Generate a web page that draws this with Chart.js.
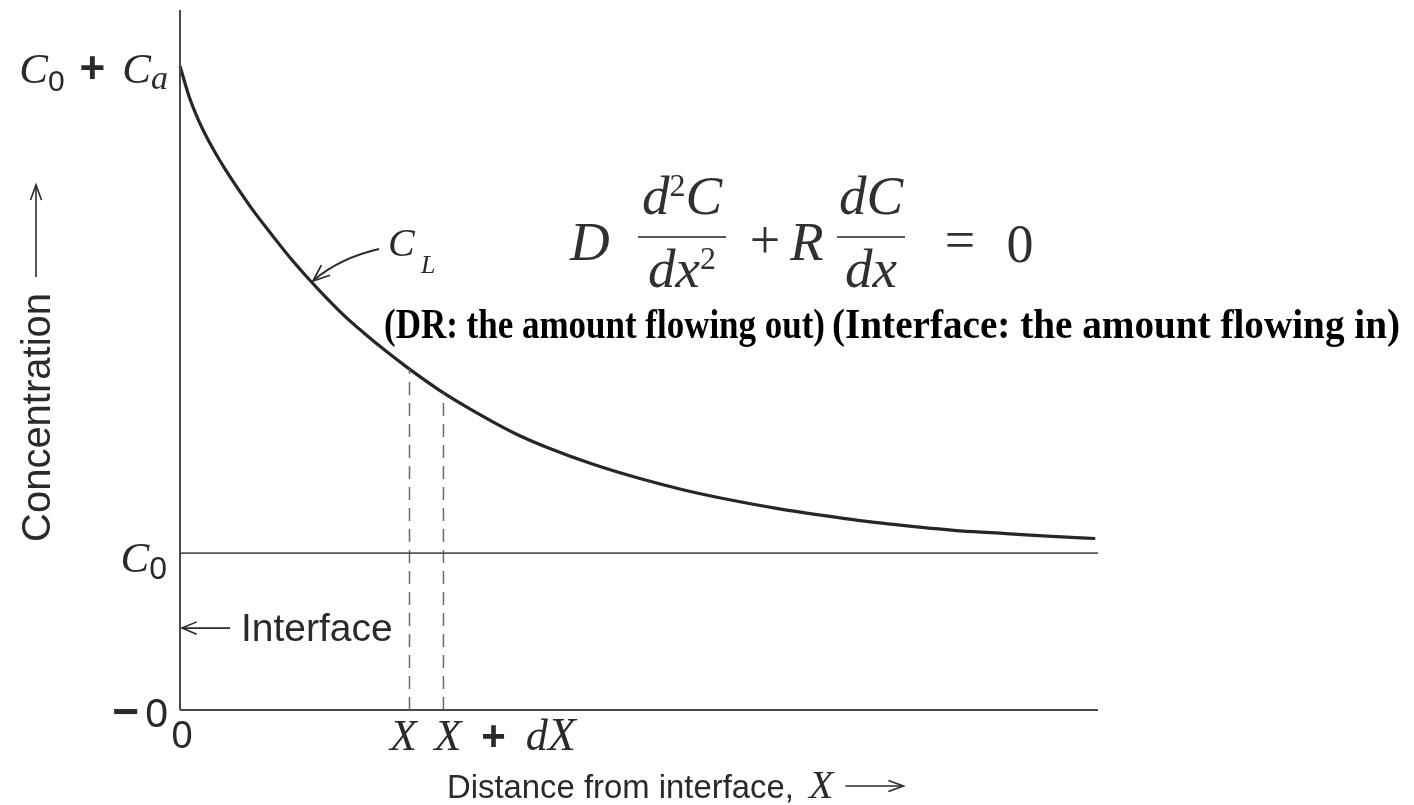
<!DOCTYPE html>
<html>
<head>
<meta charset="utf-8">
<script src="https://cdn.jsdelivr.net/npm/chart.js@4.4.1/dist/chart.umd.min.js"></script>
<style>
  html, body { margin: 0; padding: 0; background: #fff; }
  #wrap { width: 1414px; height: 805px; }
</style>
</head>
<body>
<div id="wrap"><canvas id="chart" width="1414" height="805"></canvas></div>
<script>
// Solute concentration C_L in the liquid ahead of a moving interface (arbitrary units)
const distance      = [0, 1, 2, 3, 4, 5, 6, 8, 10, 12, 14, 16, 18, 20, 22.5, 25, 28.7, 32, 36.5, 40, 45, 50, 55, 60, 65, 70, 75, 80, 85, 90, 95, 99.7];
const concentration = [92.0, 87.6, 84.3, 81.6, 79.25, 77.1, 75.1, 71.3, 67.9, 64.6, 61.6, 58.8, 56.2, 53.9, 51.2, 48.7, 45.3, 42.7, 39.5, 37.5, 35.1, 33.1, 31.4, 30.0, 28.8, 27.8, 26.9, 26.2, 25.6, 25.2, 24.8, 24.5];
const C0 = 22.4;          // bulk liquid concentration
const Ca = 69.6;          // excess at the interface, so C0 + Ca is the curve's start
const X  = 25;            // position of the slab
const dX = 3.7;           // slab thickness
const xRange = [0, 100];
const yRange = [0, 100];

const yAxisTitle = 'Concentration';
const xAxisTitle = 'Distance from interface, ';
const interfaceLabel = 'Interface';
const notes = ['(DR: the amount flowing out)', '(Interface: the amount flowing in)'];

const curveAt = v => concentration[distance.indexOf(v)];

const INK = '#2a2a2a';
const SERIF = '"Liberation Serif", "DejaVu Serif", serif';
const SANS = '"Liberation Sans", "DejaVu Sans", sans-serif';

// draw a run of differently styled pieces; parts: {t, f, dy} or {gap}
function richText(ctx, parts, x, baseline, align) {
  let total = 0;
  parts.forEach(p => {
    if (p.gap !== undefined) { total += p.gap; return; }
    ctx.font = p.f; total += ctx.measureText(p.t).width;
  });
  let cx = align === 'right' ? x - total : align === 'center' ? x - total / 2 : x;
  ctx.textAlign = 'left';
  ctx.textBaseline = 'alphabetic';
  parts.forEach(p => {
    if (p.gap !== undefined) { cx += p.gap; return; }
    ctx.font = p.f;
    ctx.fillText(p.t, cx, baseline + (p.dy || 0));
    cx += ctx.measureText(p.t).width;
  });
}

function openHead(ctx, tx, ty, ang, len, spread) {
  ctx.beginPath();
  ctx.moveTo(tx - len * Math.cos(ang - spread), ty - len * Math.sin(ang - spread));
  ctx.lineTo(tx, ty);
  ctx.lineTo(tx - len * Math.cos(ang + spread), ty - len * Math.sin(ang + spread));
  ctx.stroke();
}

const annotations = {
  id: 'annotations',
  afterDatasetsDraw(chart) {
    const { ctx, scales: { x: xs, y: ys } } = chart;
    const px = v => xs.getPixelForValue(v);
    const py = v => ys.getPixelForValue(v);
    ctx.save();
    ctx.fillStyle = INK;
    ctx.strokeStyle = INK;

    // value labels on the concentration axis
    const right = px(0) - 13;
    richText(ctx, [
      { t: 'C', f: `italic 43px ${SERIF}` },
      { t: '0', f: `30px ${SANS}`, dy: 8 },
      { gap: 15 },
      { t: '+', f: `bold 44px ${SANS}` },
      { gap: 17 },
      { t: 'C', f: `italic 43px ${SERIF}` },
      { t: 'a', f: `italic 34px ${SERIF}`, dy: 6 }
    ], right + 1, py(C0 + Ca) + 17, 'right');
    richText(ctx, [
      { t: 'C', f: `italic 43px ${SERIF}` },
      { t: '0', f: `32px ${SANS}`, dy: 7 }
    ], right, py(C0) + 19, 'right');
    richText(ctx, [
      { t: '\u2212', f: `bold 46px ${SANS}` },
      { gap: 6 },
      { t: '0', f: `41px ${SANS}` }
    ], right + 1, py(0) + 17, 'right');

    // distance axis labels
    richText(ctx, [{ t: '0', f: `38px ${SANS}` }], px(0) + 2, py(0) + 38, 'center');
    richText(ctx, [{ t: 'X', f: `italic 44px ${SERIF}` }], px(X) - 6, py(0) + 40, 'center');
    richText(ctx, [
      { t: 'X', f: `italic 44px ${SERIF}` },
      { gap: 20 },
      { t: '+', f: `bold 42px ${SANS}` },
      { gap: 20 },
      { t: 'd', f: `italic 44px ${SERIF}` },
      { t: 'X', f: `italic 46px ${SERIF}` }
    ], px(X + dX) - 9, py(0) + 40, 'left');

    // axis titles
    ctx.lineWidth = 1.6;
    const tx = 447, tb = 798;
    ctx.font = `34px ${SANS}`;
    const titleW = Math.min(ctx.measureText(xAxisTitle).width, 356);
    ctx.textAlign = 'left';
    ctx.textBaseline = 'alphabetic';
    ctx.fillText(xAxisTitle, tx, tb, 356);
    const endTitle = tx + titleW + 6;
    richText(ctx, [{ t: 'X', f: `italic 40px ${SERIF}` }], endTitle, tb, 'left');
    ctx.font = `italic 40px ${SERIF}`;
    const ax0 = endTitle + ctx.measureText('X').width + 12;
    ctx.beginPath(); ctx.moveTo(ax0, tb - 12); ctx.lineTo(ax0 + 56, tb - 12); ctx.stroke();
    openHead(ctx, ax0 + 58, tb - 12, 0, 16, 0.35);

    ctx.save();
    ctx.translate(50, 542);
    ctx.rotate(-Math.PI / 2);
    ctx.font = `40px ${SANS}`;
    ctx.textAlign = 'left';
    ctx.textBaseline = 'alphabetic';
    ctx.fillText(yAxisTitle, 0, 0);
    const yl = ctx.measureText(yAxisTitle).width;
    ctx.beginPath(); ctx.moveTo(yl + 16, -14); ctx.lineTo(yl + 106, -14); ctx.stroke();
    openHead(ctx, yl + 108, -14, 0, 16, 0.35);
    ctx.restore();

    // interface pointer
    const iy = py(11.7);
    ctx.beginPath(); ctx.moveTo(px(0) + 3, iy); ctx.lineTo(px(0) + 50, iy); ctx.stroke();
    openHead(ctx, px(0) + 2, iy, Math.PI, 16, 0.4);
    richText(ctx, [{ t: interfaceLabel, f: `39px ${SANS}` }], px(0) + 61, iy + 13, 'left');

    // C_L tag with curved leader
    richText(ctx, [{ t: 'C', f: `italic 40px ${SERIF}` }], 388, 256, 'left');
    richText(ctx, [{ t: 'L', f: `italic 26px ${SERIF}` }], 421, 273, 'left');
    ctx.lineWidth = 1.8;
    ctx.beginPath();
    ctx.moveTo(379, 249);
    ctx.quadraticCurveTo(340, 258, 314, 280);
    ctx.stroke();
    openHead(ctx, 313, 281, Math.atan2(281 - 258, 313 - 340), 18, 0.38);

    // governing equation
    ctx.fillStyle = '#303030';
    ctx.strokeStyle = '#5a5a5a';
    const eqB = 260, numB = 214, denB = 287, bar = 237;
    const M = `italic 55px ${SERIF}`, U = `54px ${SERIF}`, S = `32px ${SERIF}`;
    richText(ctx, [{ t: 'D', f: M }], 570, eqB, 'left');
    richText(ctx, [{ t: 'd', f: M }, { t: '2', f: S, dy: -18 }, { t: 'C', f: M }], 682, numB, 'center');
    richText(ctx, [{ t: 'dx', f: M }, { t: '2', f: S, dy: -18 }], 682, denB, 'center');
    ctx.lineWidth = 1.8;
    ctx.beginPath(); ctx.moveTo(638, bar); ctx.lineTo(726, bar); ctx.stroke();
    richText(ctx, [{ t: '+', f: U }], 765, eqB - 2, 'center');
    richText(ctx, [{ t: 'R', f: M }], 790, eqB, 'left');
    richText(ctx, [{ t: 'dC', f: M }], 871, numB, 'center');
    richText(ctx, [{ t: 'dx', f: M }], 871, denB, 'center');
    ctx.beginPath(); ctx.moveTo(837, bar); ctx.lineTo(905, bar); ctx.stroke();
    richText(ctx, [{ t: '=', f: U }], 960, eqB - 2, 'center');
    richText(ctx, [{ t: '0', f: U }], 1020, eqB + 2, 'center');

    // bold notes
    ctx.fillStyle = '#000';
    ctx.font = `bold 43px ${SERIF}`;
    ctx.textAlign = 'left';
    ctx.fillText(notes[0], 384, 338, 441);
    ctx.fillText(notes[1], 832, 338, 568);

    ctx.restore();
  }
};

const seg = (a, b) => [a, b];
const line = (data, color, width, dash) => ({
  data, showLine: true, borderColor: color, borderWidth: width,
  borderDash: dash || [], pointRadius: 0, pointHoverRadius: 0, fill: false, clip: false
});

new Chart(document.getElementById('chart'), {
  type: 'scatter',
  data: {
    datasets: [
      line(seg({ x: xRange[0], y: 0 }, { x: xRange[0], y: yRange[1] }), '#4a4a4a', 2),
      line(seg({ x: xRange[0], y: 0 }, { x: xRange[1], y: 0 }), '#4a4a4a', 2),
      line(seg({ x: xRange[0], y: C0 }, { x: xRange[1], y: C0 }), '#555', 1.7),
      line(seg({ x: X, y: 0 }, { x: X, y: curveAt(X) }), '#6a6a6a', 1.5, [13, 8]),
      line(seg({ x: X + dX, y: 0 }, { x: X + dX, y: curveAt(X + dX) }), '#6a6a6a', 1.5, [13, 8]),
      Object.assign(line(distance.map((d, i) => ({ x: d, y: concentration[i] })), '#262626', 3.2),
        { cubicInterpolationMode: 'monotone' })
    ]
  },
  options: {
    responsive: false,
    animation: false,
    events: [],
    layout: { padding: { left: 180, right: 316, top: 10, bottom: 95 } },
    scales: {
      x: { type: 'linear', min: xRange[0], max: xRange[1], display: false },
      y: { type: 'linear', min: yRange[0], max: yRange[1], display: false }
    },
    plugins: { legend: { display: false }, tooltip: { enabled: false } }
  },
  plugins: [annotations]
});
</script>
</body>
</html>
